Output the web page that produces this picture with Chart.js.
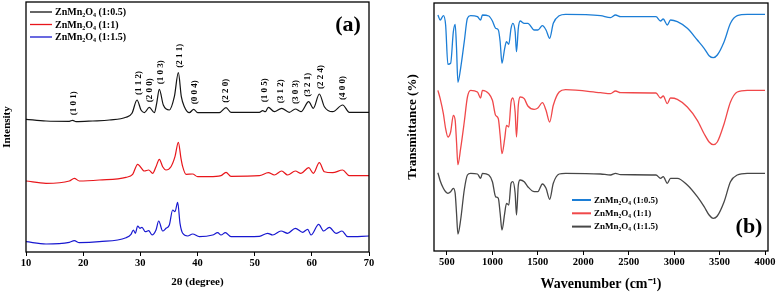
<!DOCTYPE html>
<html>
<head>
<meta charset="utf-8">
<script src="https://cdn.jsdelivr.net/npm/chart.js@4.4.1/dist/chart.umd.min.js"></script>
<style>
  html, body { margin: 0; padding: 0; background: #fff; }
  #wrap { position: relative; width: 777px; height: 294px; }
  #xrdChart { position: absolute; left: 0; top: 0; }
  #ftirChart { position: absolute; left: 390px; top: 0; }
</style>
</head>
<body>
<div id="wrap">
  <canvas id="xrdChart" width="385" height="294"></canvas>
  <canvas id="ftirChart" width="387" height="294"></canvas>
</div>
<script>
// ---- XRD data (2θ in degrees, intensity in arbitrary offset units) ----
const seriesLabels = ['ZnMn₂O₄ (1:0.5)', 'ZnMn₂O₄ (1:1)', 'ZnMn₂O₄ (1:1.5)'];

const theta1 = [10.0, 13.5, 17.58, 18.16, 18.75, 21.66, 24.58, 27.49, 28.54, 29.42, 30.12, 30.7, 31.57, 32.45, 32.86, 33.32, 34.02, 35.07, 35.95, 36.65, 37.17, 37.7, 38.57, 39.33, 40.03, 43.82, 44.99, 45.86, 50.82, 51.4, 51.87, 52.39, 53.44, 54.72, 56.06, 57.11, 58.1, 59.45, 60.26, 61.31, 62.19, 63.64, 65.39, 66.56, 70.0];
const int1 = [132.7, 131, 130.7, 131.7, 130.3, 131, 132, 134.7, 138.7, 152, 142, 139.3, 144.7, 139.3, 148.7, 162.7, 147, 142, 155.3, 179.3, 155.3, 145.3, 139.3, 142.7, 139.3, 139.3, 144.3, 139.7, 139.7, 141.3, 140.3, 144.7, 140.3, 143.7, 139.7, 143, 140.3, 150.3, 143.7, 158, 145.3, 140.3, 147, 139.7, 139.7];

const theta2 = [10.0, 13.5, 17.58, 18.45, 19.33, 22.83, 27.49, 28.66, 29.53, 30.7, 31.46, 32.16, 32.74, 33.32, 33.91, 34.49, 35.36, 36.06, 36.65, 37.11, 37.41, 37.99, 39.15, 40.03, 42.07, 44.11, 44.99, 45.86, 50.82, 52.39, 53.44, 54.72, 55.77, 57.11, 58.1, 59.45, 60.26, 61.31, 62.19, 63.64, 65.39, 66.56, 70.0];
const int2 = [71, 68.7, 71, 73.7, 71, 72, 74.7, 77.7, 87.7, 81, 82, 78.7, 85.3, 92.7, 85.3, 82, 85.3, 95.3, 109.7, 93.7, 85.3, 77.7, 78, 75.3, 75.3, 76.3, 79.7, 75.7, 76.3, 79.3, 77, 81, 77, 81, 78.7, 84.3, 78.7, 89.3, 80.3, 79.3, 82, 76.3, 76.3];

const theta3 = [10.0, 13.5, 17.58, 18.45, 19.33, 22.83, 27.49, 28.37, 28.78, 29.13, 29.53, 29.94, 30.29, 30.87, 31.46, 32.04, 32.74, 33.21, 33.91, 34.49, 35.07, 35.66, 36.06, 36.53, 36.94, 37.41, 38.28, 39.15, 40.32, 42.65, 43.53, 44.11, 44.87, 45.86, 50.82, 52.27, 53.15, 54.61, 55.77, 57.11, 58.4, 59.27, 59.85, 61.2, 62.07, 63.06, 64.23, 65.28, 66.27, 70.0];
const int3 = [10.3, 8, 9.7, 11.3, 9.3, 10.3, 14.3, 17.7, 22, 18.7, 26, 23.7, 24.7, 20.3, 21.3, 17, 22, 31, 21, 23.7, 27, 42, 40.3, 49.7, 28.7, 18.7, 16, 18, 15.3, 17, 19.3, 17, 19.3, 15.3, 15.7, 18.7, 17, 21, 18.7, 23.7, 19.7, 22.7, 17, 27.7, 21, 24.7, 18.7, 21, 15.3, 16];

const xrdTicks = [10, 20, 30, 40, 50, 60, 70];
const hklLabels = ['(1 0 1)', '(1 1 2)', '(2 0 0)', '(1 0 3)', '(2 1 1)', '(0 0 4)', '(2 2 0)', '(1 0 5)', '(3 1 2)', '(3 0 3)', '(3 2 1)', '(2 2 4)', '(4 0 0)'];
const hklTheta = [18.3, 29.7, 31.6, 33.6, 36.9, 39.45, 45.0, 51.7, 54.6, 57.1, 59.3, 61.6, 65.4];

// ---- FTIR data (wavenumber in cm-1, transmittance in offset units) ----
const wavenumber = [400, 425, 460, 485, 510, 540, 570, 590, 605, 620, 650, 690, 725, 760, 835, 870, 890, 960, 1000, 1035, 1065, 1085, 1105, 1135, 1155, 1180, 1205, 1225, 1250, 1265, 1285, 1305, 1350, 1390, 1460, 1500, 1550, 1590, 1630, 1670, 1735, 1805, 2190, 2300, 2355, 2410, 2800, 2850, 2880, 2925, 2960, 3035, 3145, 3255, 3330, 3385, 3430, 3475, 3550, 3620, 3695, 3805, 4000];
const trans1 = [237, 232, 236.3, 227, 187.7, 188.7, 220.3, 227.7, 203.7, 169.7, 183.7, 210.3, 233.7, 236.3, 235.3, 232, 237, 236, 231, 223.7, 222, 210.3, 188.7, 203.7, 210.3, 207.7, 223.7, 228.7, 220.3, 200.3, 223.7, 231, 228.7, 228.7, 222, 222, 226.3, 222, 213.7, 228.7, 236.3, 237.7, 236.3, 234.3, 237, 235.3, 235.3, 231, 233, 227, 232, 230.3, 223.7, 212, 203.7, 196.3, 194.3, 197, 210.3, 228.7, 236.3, 237.7, 237.7];
const trans2 = [161.7, 153.3, 138.3, 123.3, 115, 120, 136.7, 131.7, 110, 87.3, 103.3, 130, 155, 161.7, 160, 154, 161.7, 158.3, 151.7, 136.7, 133.3, 116.7, 98.3, 113.3, 126.7, 125, 150, 154, 140, 115, 146.7, 155, 153.3, 146, 142.7, 144, 149.3, 141.7, 130, 146.7, 160, 162.3, 159.3, 158.3, 161, 159.3, 159, 154, 156, 148.3, 154, 152.7, 145, 131.7, 118.3, 110, 107.3, 110, 128.3, 150, 160, 161.7, 161.7];
const trans3 = [79.3, 71.3, 63.7, 60.3, 58.7, 60.3, 63.7, 58.7, 38.7, 18, 32, 62, 77, 78.7, 78, 73.7, 78.7, 77, 70.3, 55.3, 53.7, 38.7, 22, 38.7, 48.7, 47, 68.7, 70.3, 58.7, 37, 67, 72, 70.3, 65.3, 60.3, 60.3, 68, 63.7, 52.7, 68.7, 78, 78.7, 78, 77, 78.7, 77.3, 77, 73.7, 75.3, 68.7, 73.7, 73.7, 67, 55.3, 45.3, 37, 33.7, 36, 50.3, 70.3, 77, 78.7, 78.7];
const ftirTicks = [500, 1000, 1500, 2000, 2500, 3000, 3500, 4000];

const serif = "'Liberation Serif', 'Times New Roman', serif";
Chart.defaults.font.family = serif;
Chart.defaults.font.weight = 'bold';
Chart.defaults.color = '#000';
Chart.defaults.animation = false;

function pts(xs, ys) { return xs.map((x, i) => ({ x: x, y: ys[i] })); }

// frame round the plot area
const framePlugin = {
  id: 'frame',
  afterDraw(chart) {
    const a = chart.chartArea, ctx = chart.ctx;
    ctx.save();
    ctx.strokeStyle = '#000';
    ctx.lineWidth = 1.3;
    ctx.strokeRect(a.left, a.top, a.right - a.left, a.bottom - a.top);
    ctx.restore();
  }
};

// line legend + panel letter, drawn inside the plot
const boxLegend = {
  id: 'boxLegend',
  afterDraw(chart, args, opts) {
    const ctx = chart.ctx, a = chart.chartArea;
    ctx.save();
    ctx.font = 'bold ' + opts.size + 'px ' + serif;
    ctx.textBaseline = 'middle';
    ctx.textAlign = 'left';
    chart.data.datasets.forEach((ds, i) => {
      const y = a.top + opts.y + i * opts.dy;
      const x = a.left + opts.x;
      ctx.strokeStyle = ds.borderColor;
      ctx.lineWidth = opts.lw;
      ctx.beginPath();
      ctx.moveTo(x, y);
      ctx.lineTo(x + opts.len, y);
      ctx.stroke();
      ctx.fillStyle = '#000';
      ctx.fillText(ds.label, x + opts.len + 3, y + 0.5);
    });
    ctx.font = 'bold 22px ' + serif;
    ctx.textAlign = 'center';
    ctx.fillText(opts.letter, a.left + opts.lx, a.top + opts.ly);
    ctx.restore();
  }
};

// (h k l) labels above the top XRD pattern
const hklPlugin = {
  id: 'hkl',
  afterDatasetsDraw(chart) {
    const ctx = chart.ctx, xs = chart.scales.x, ys = chart.scales.y;
    ctx.save();
    ctx.font = 'bold 9px ' + serif;
    ctx.fillStyle = '#000';
    ctx.textAlign = 'left';
    ctx.textBaseline = 'middle';
    hklLabels.forEach((lab, i) => {
      const t = hklTheta[i];
      let top = -Infinity;
      theta1.forEach((tt, j) => { if (Math.abs(tt - t) < 0.7) top = Math.max(top, int1[j]); });
      ctx.save();
      ctx.translate(xs.getPixelForValue(t), ys.getPixelForValue(top) - 5);
      ctx.rotate(-Math.PI / 2);
      ctx.fillText(lab, 0, 0);
      ctx.restore();
    });
    ctx.restore();
  }
};

function xScale(min, max, tickList, title, titleSize, titlePad, h) {
  return {
    type: 'linear', min: min, max: max,
    border: { display: false },
    grid: { drawOnChartArea: false, drawTicks: true, tickLength: 4, color: '#000', lineWidth: 1 },
    ticks: { font: { size: 10.5, weight: 'bold' }, padding: 1, maxRotation: 0, callback: v => String(v) },
    afterBuildTicks: s => { s.ticks = tickList.map(v => ({ value: v })); },
    afterFit: s => { s.height = h; s.paddingLeft = 0; s.paddingRight = 0; },
    title: { display: true, text: title, font: { size: titleSize, weight: 'bold' }, padding: { top: 0, bottom: titlePad } }
  };
}

function yScale(min, max, title, titleSize, titlePad, w) {
  return {
    min: min, max: max,
    border: { display: false },
    grid: { display: false },
    ticks: { display: false },
    afterFit: s => { s.width = w; },
    title: { display: true, text: title, font: { size: titleSize, weight: 'bold' }, padding: { top: titlePad, bottom: 0 } }
  };
}

function line(label, xs, ys, color, w) {
  return { label: label, data: pts(xs, ys), borderColor: color, backgroundColor: color,
           borderWidth: w, pointRadius: 0, cubicInterpolationMode: 'monotone', fill: false };
}

new Chart(document.getElementById('xrdChart').getContext('2d'), {
  type: 'line',
  data: {
    datasets: [
      line(seriesLabels[0], theta1, int1, '#141414', 1.2),
      line(seriesLabels[1], theta2, int2, '#e8161b', 1.2),
      line(seriesLabels[2], theta3, int3, '#1818d0', 1.2)
    ]
  },
  options: {
    responsive: false,
    layout: { padding: { top: 2, right: 16, left: 0, bottom: 0 } },
    scales: {
      x: xScale(10, 70, xrdTicks, '2θ (degree)', 11, 5, 42),
      y: yScale(0, 250, 'Intensity', 11, 1, 26)
    },
    plugins: {
      legend: { display: false },
      tooltip: { enabled: false },
      boxLegend: { x: 4, y: 10, dy: 12.5, len: 22, lw: 1.3, size: 10, letter: '(a)', lx: 322, ly: 23 }
    }
  },
  plugins: [framePlugin, boxLegend, hklPlugin]
});

new Chart(document.getElementById('ftirChart').getContext('2d'), {
  type: 'line',
  data: {
    datasets: [
      line(seriesLabels[0], wavenumber, trans1, '#1c7ed6', 1.3),
      line(seriesLabels[1], wavenumber, trans2, '#f0484a', 1.3),
      line(seriesLabels[2], wavenumber, trans3, '#474747', 1.3)
    ]
  },
  options: {
    responsive: false,
    layout: { padding: { top: 3, right: 9, left: 0, bottom: 0 } },
    scales: {
      x: xScale(357, 4033, ftirTicks, 'Wavenumber (cm⁻¹)', 14, 1, 43),
      y: yScale(1, 249, 'Transmittance (%)', 13, 15, 44)
    },
    plugins: {
      legend: { display: false },
      tooltip: { enabled: false },
      boxLegend: { x: 138, y: 197, dy: 13.3, len: 19, lw: 2, size: 9, letter: '(b)', lx: 315, ly: 224 }
    }
  },
  plugins: [framePlugin, boxLegend]
});
</script>
</body>
</html>
